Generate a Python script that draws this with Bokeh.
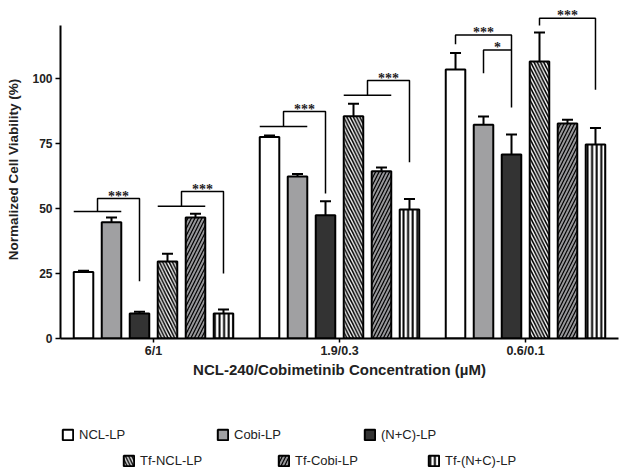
from bokeh.plotting import figure
from bokeh.layouts import column
from bokeh.models import (FixedTicker, Whisker, TeeHead, ColumnDataSource, Legend,
                          LegendItem, LabelSet, Range1d)
from bokeh.embed import file_html
from bokeh.resources import INLINE

# ---------------- data ----------------
groups = ["6/1", "1.9/0.3", "0.6/0.1"]
series = ["NCL-LP", "Cobi-LP", "(N+C)-LP", "Tf-NCL-LP", "Tf-Cobi-LP", "Tf-(N+C)-LP"]

ncl_lp = [25.6, 77.5, 103.5]
ncl_lp_err = [0.5, 0.6, 6.3]
cobi_lp = [44.7, 62.3, 82.2]
cobi_lp_err = [1.8, 1.0, 3.2]
nc_lp = [9.6, 47.4, 70.8]
nc_lp_err = [0.7, 5.4, 7.7]
tf_ncl_lp = [29.6, 85.5, 106.5]
tf_ncl_lp_err = [3.0, 4.8, 11.2]
tf_cobi_lp = [46.5, 64.3, 82.7]
tf_cobi_lp_err = [1.5, 1.5, 1.4]
tf_nc_lp = [9.6, 49.6, 74.6]
tf_nc_lp_err = [1.6, 4.1, 6.4]

values = [ncl_lp, cobi_lp, nc_lp, tf_ncl_lp, tf_cobi_lp, tf_nc_lp]
errors = [ncl_lp_err, cobi_lp_err, nc_lp_err, tf_ncl_lp_err, tf_cobi_lp_err, tf_nc_lp_err]

y_ticks = [0, 25, 50, 75, 100]

# significance brackets: (group, left bars, right bar, base, top, end, label)
brackets = [
    (0, (0, 1), 2, 48.8, 53.8, 22.0, "***"),
    (0, (3, 4), 5, 50.9, 56.5, 25.0, "***"),
    (1, (0, 1), 2, 81.5, 87.3, 55.8, "***"),
    (1, (3, 4), 5, 93.6, 99.2, 67.8, "***"),
    (2, (0,), 2, 113.2, 116.7, 88.8, "***"),
    (2, (1,), 2, 102.0, 111.0, None, "*"),
    (2, (3,), 5, 120.4, 123.2, 95.7, "***"),
]

# ---------------- styles ----------------
step = 0.1505
bar_w = 0.105
fills = ["white", "#a0a0a2", "#333333", "white", "#97979a", "white"]
hatches = [None, None, None, "left_diagonal_line", "right_diagonal_line", "vertical_line"]
hatch_scale = [6, 6, 6, 6.5, 7.0, 4.6]
hatch_weight = [1, 1, 1, 1.6, 1.2, 2.0]

FONT = "Liberation Sans"
TXT = "#222222"

W = 625
LEFT = 60
RIGHT = W - 618
p = figure(width=W, height=385, output_backend="svg", toolbar_location=None,
           x_range=Range1d(-0.5, 2.5), y_range=Range1d(0, 130.0),
           min_border_left=LEFT, min_border_right=RIGHT, min_border_top=0,
           min_border_bottom=47)
p.outline_line_color = None
p.xgrid.visible = False
p.ygrid.visible = False


def off(i):
    return (i - 2.5) * step


def bar_style(i):
    kw = dict(fill_color=fills[i], line_color="black", line_width=2)
    if hatches[i]:
        kw.update(hatch_pattern=hatches[i], hatch_color="black",
                  hatch_scale=hatch_scale[i], hatch_weight=hatch_weight[i])
    return kw


sources = []
for i, name in enumerate(series):
    xs = [g + off(i) for g in range(len(groups))]
    tops = values[i]
    src = ColumnDataSource(dict(x=xs, top=tops,
                                upper=[t + e for t, e in zip(tops, errors[i])]))
    sources.append(src)
    w = Whisker(source=src, base="x", lower="top", upper="upper", dimension="height",
                line_color="black", line_width=2, lower_head=None,
                upper_head=TeeHead(size=11, line_color="black", line_width=2),
                level="underlay")
    p.add_layout(w)
    p.vbar(x="x", top="top", width=bar_w, source=src, **bar_style(i))

# brackets
bxs, bys, lx, ly, lt = [], [], [], [], []
for g, left, right, base, top, end, lab in brackets:
    xr = g + off(right)
    if len(left) == 2:
        x0 = g + off(left[0]) - bar_w / 2
        x1 = g + off(left[1]) + bar_w / 2
        bxs.append([x0, x1]); bys.append([base, base])
        xl = (x0 + x1) / 2
    else:
        xl = g + off(left[0])
    if end is None:
        bxs.append([xl, xl, xr]); bys.append([base, top, top])
    else:
        bxs.append([xl, xl, xr, xr]); bys.append([base, top, top, end])
    lx.append((xl + xr) / 2); ly.append(top); lt.append(lab)

p.multi_line(xs=bxs, ys=bys, line_color="black", line_width=1.5)
lab_src = ColumnDataSource(dict(x=lx, y=ly, t=lt))
p.add_layout(LabelSet(x="x", y="y", text="t", source=lab_src, text_align="center",
                      text_baseline="alphabetic", y_offset=-2, text_font=FONT,
                      text_font_size="14px", text_font_style="bold", text_color=TXT))

# axes
xa = p.xaxis[0]
xa.ticker = FixedTicker(ticks=list(range(len(groups))))
xa.major_label_overrides = {i: g for i, g in enumerate(groups)}
xa.minor_tick_line_color = None
xa.major_tick_in = 0
xa.major_tick_out = 4
xa.axis_line_width = 2
xa.major_tick_line_width = 1.5
xa.major_label_standoff = 1
xa.major_label_text_font = FONT
xa.major_label_text_font_style = "bold"
xa.major_label_text_font_size = "12.5px"
xa.major_label_text_color = TXT
xa.axis_label = "NCL-240/Cobimetinib Concentration (\u00b5M)"
xa.axis_label_text_font = FONT
xa.axis_label_text_font_style = "bold"
xa.axis_label_text_font_size = "15px"
xa.axis_label_text_color = TXT
xa.axis_label_standoff = 0

ya = p.yaxis[0]
ya.ticker = FixedTicker(ticks=y_ticks)
ya.bounds = (0, 120.5)
ya.minor_tick_line_color = None
ya.major_tick_in = 0
ya.major_tick_out = 5
ya.axis_line_width = 2
ya.major_tick_line_width = 1.5
ya.major_label_standoff = 3
ya.major_label_text_font = FONT
ya.major_label_text_font_style = "bold"
ya.major_label_text_font_size = "12px"
ya.major_label_text_color = TXT
ya.axis_label = "Normalized Cell Viability (%)"
ya.axis_label_text_font = FONT
ya.axis_label_text_font_style = "bold"
ya.axis_label_text_font_size = "13.5px"
ya.axis_label_text_color = TXT
ya.axis_label_standoff = 8

# ---------------- legend panel ----------------
LH = 88
q = figure(width=W, height=LH, output_backend="svg", toolbar_location=None,
           x_range=Range1d(0, 1), y_range=Range1d(0, 1),
           min_border_left=LEFT, min_border_right=RIGHT, min_border_top=0,
           min_border_bottom=0)
q.axis.visible = False
q.grid.visible = False
q.outline_line_color = None

# swatch left edge (page px) and legend bottom (px above panel bottom)
leg_pos = [(61, 31.5), (216, 31.5), (363, 31.5),
           (122, 5.5), (277, 5.5), (427, 5.5)]
for i, (name, (lxp, lyp)) in enumerate(zip(series, leg_pos)):
    r = q.vbar(x="x", top="top", width=bar_w, source=sources[i], **bar_style(i))
    r.visible = False
    leg = Legend(items=[LegendItem(label=name, renderers=[r])],
                 location=(lxp - LEFT, lyp),
                 glyph_width=13, glyph_height=13, label_height=13, label_width=10,
                 label_standoff=5, padding=0, margin=0, spacing=0,
                 border_line_color=None, background_fill_alpha=0,
                 inactive_fill_alpha=0,
                 label_text_font=FONT, label_text_font_size="13px",
                 label_text_color=TXT)
    q.add_layout(leg, "center")

open("out.html", "w").write(file_html(column(p, q), INLINE))
